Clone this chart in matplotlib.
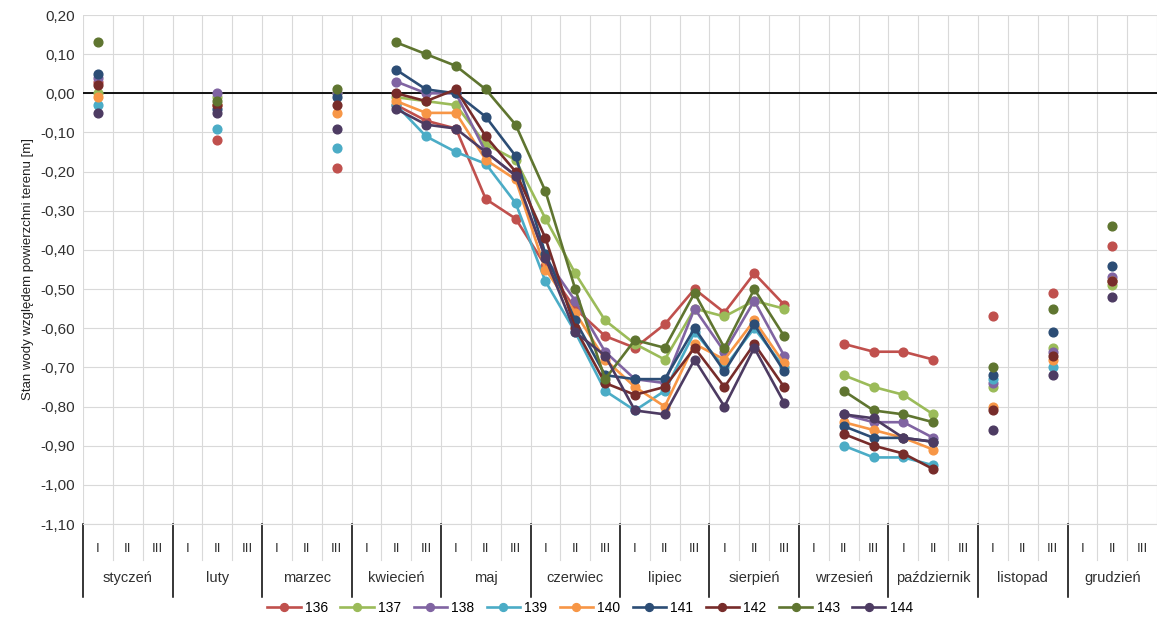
import numpy as np
import matplotlib
matplotlib.use('Agg')
import matplotlib.pyplot as plt
from matplotlib.ticker import FuncFormatter

plt.rcParams['font.family'] = ['Liberation Sans Narrow', 'Liberation Sans', 'DejaVu Sans']

months = ['styczeń', 'luty', 'marzec', 'kwiecień', 'maj', 'czerwiec', 'lipiec',
          'sierpień', 'wrzesień', 'październik', 'listopad', 'grudzień']
decades = ['I', 'II', 'III']

# columns (month*3 + decade) that have measurements
obs_cols = [0, 4, 8,
            10, 11, 12, 13, 14, 15, 16, 17, 18, 19, 20, 21, 22, 23,
            25, 26, 27, 28,
            30, 32, 34]

names = ['136', '137', '138', '139', '140', '141', '142', '143', '144']
colors = ['#C0504D', '#9BBB59', '#8064A2', '#4BACC6', '#F79646',
          '#2C4D75', '#772C2A', '#5F7530', '#4D3B62']

s136 = [0.03, -0.12, -0.19, -0.03, -0.07, -0.09, -0.27, -0.32, -0.44, -0.55, -0.62, -0.65,
        -0.59, -0.50, -0.56, -0.46, -0.54, -0.64, -0.66, -0.66, -0.68, -0.57, -0.51, -0.39]
s137 = [0.00, -0.01, 0.00, -0.01, -0.02, -0.03, -0.13, -0.17, -0.32, -0.46, -0.58, -0.64,
        -0.68, -0.55, -0.57, -0.53, -0.55, -0.72, -0.75, -0.77, -0.82, -0.75, -0.65, -0.49]
s138 = [0.04, 0.00, 0.00, 0.03, 0.00, 0.00, -0.15, -0.21, -0.42, -0.53, -0.66, -0.73,
        -0.74, -0.55, -0.66, -0.53, -0.67, -0.82, -0.84, -0.84, -0.88, -0.74, -0.66, -0.47]
s139 = [-0.03, -0.09, -0.14, -0.03, -0.11, -0.15, -0.18, -0.28, -0.48, -0.61, -0.76, -0.81,
        -0.76, -0.61, -0.70, -0.60, -0.70, -0.90, -0.93, -0.93, -0.95, -0.73, -0.70, -0.48]
s140 = [-0.01, -0.03, -0.05, -0.02, -0.05, -0.05, -0.17, -0.22, -0.45, -0.56, -0.68, -0.75,
        -0.80, -0.64, -0.68, -0.58, -0.69, -0.84, -0.86, -0.88, -0.91, -0.80, -0.68, -0.48]
s141 = [0.05, -0.04, -0.01, 0.06, 0.01, 0.00, -0.06, -0.16, -0.41, -0.58, -0.72, -0.73,
        -0.73, -0.60, -0.71, -0.59, -0.71, -0.85, -0.88, -0.88, -0.89, -0.72, -0.61, -0.44]
s142 = [0.02, -0.03, -0.03, 0.00, -0.02, 0.01, -0.11, -0.20, -0.37, -0.60, -0.74, -0.77,
        -0.75, -0.65, -0.75, -0.64, -0.75, -0.87, -0.90, -0.92, -0.96, -0.81, -0.67, -0.48]
s143 = [0.13, -0.02, 0.01, 0.13, 0.10, 0.07, 0.01, -0.08, -0.25, -0.50, -0.73, -0.63,
        -0.65, -0.51, -0.65, -0.50, -0.62, -0.76, -0.81, -0.82, -0.84, -0.70, -0.55, -0.34]
s144 = [-0.05, -0.05, -0.09, -0.04, -0.08, -0.09, -0.15, -0.21, -0.42, -0.61, -0.67, -0.81,
        -0.82, -0.68, -0.80, -0.65, -0.79, -0.82, -0.83, -0.88, -0.89, -0.86, -0.72, -0.52]
series = [s136, s137, s138, s139, s140, s141, s142, s143, s144]

n_cols = len(months) * len(decades)
x = np.arange(n_cols)

fig = plt.figure(figsize=(11.57, 6.21), dpi=100)
ax = fig.add_axes([83 / 1157, 1 - 524 / 621, (1157 - 83) / 1157, (524 - 15) / 621])

for i, (name, vals) in enumerate(zip(names, series)):
    y = np.full(n_cols, np.nan)
    y[obs_cols] = vals
    ax.plot(x, y, '-o', color=colors[i], lw=1.9, ms=6.3, label=name, zorder=3 + i)

ax.set_ylim(-1.10, 0.20)
ax.set_yticks(np.arange(-1.1, 0.21, 0.1))
ax.yaxis.set_major_formatter(FuncFormatter(lambda v, p: f'{v:.2f}'.replace('.', ',').replace('-0,00', '0,00')))
ax.set_xlim(-0.5, -0.5 + (1157 - 83) / 30)
ax.set_xticks(np.arange(-0.5, n_cols, 1), minor=False)
ax.set_xticklabels([])
ax.tick_params(axis='both', length=0, labelsize=11, colors='#303030')
ax.tick_params(axis='y', pad=6)
ax.grid(True, color='#d9d9d9', lw=0.8)
ax.set_axisbelow(True)
for sp in ['top', 'right', 'left']:
    ax.spines[sp].set_visible(False)
ax.spines['bottom'].set_color('#d9d9d9')
ax.axhline(0, color='black', lw=1.3, zorder=2)
ax.set_ylabel('Stan wody względem powierzchni terenu [m]', fontsize=9.5, color='#202020', labelpad=4)

# two-level category axis
trans = ax.get_xaxis_transform()
h = 509.0
for k in range(n_cols):
    ax.text(k, -(549 - 524) / h, decades[k % 3], transform=trans, ha='center', va='center',
            fontsize=9.5, color='#303030', clip_on=False)
    if k % 3 != 0:
        ax.plot([k - 0.5, k - 0.5], [0, -(560 - 524) / h], transform=trans, color='#d9d9d9',
                lw=0.8, clip_on=False)
for m, name in enumerate(months):
    ax.text(3 * m + 1, -(578 - 524) / h, name, transform=trans, ha='center', va='center',
            fontsize=10.5, color='#303030', clip_on=False)
    ax.plot([3 * m - 0.5, 3 * m - 0.5], [0, -(597 - 524) / h], transform=trans, color='black',
            lw=1.1, clip_on=False)

fig.legend(loc='center', bbox_to_anchor=(590 / 1157, 1 - 608 / 621), ncol=9, frameon=False,
           fontsize=10, handlelength=2.4, columnspacing=0.9, handletextpad=0.3, markerscale=0.9)

fig.savefig('out.png', dpi=100)
